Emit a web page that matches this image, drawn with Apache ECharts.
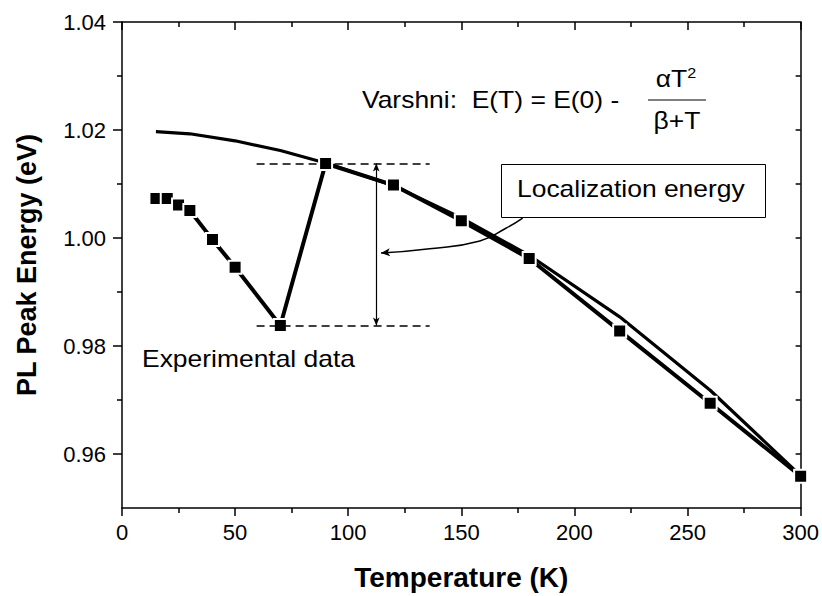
<!DOCTYPE html>
<html>
<head>
<meta charset="utf-8">
<script src="https://cdn.jsdelivr.net/npm/echarts@6.0.0/dist/echarts.min.js"></script>
<style>
  html, body { margin: 0; padding: 0; background: #fff; }
  #chart { width: 822px; height: 596px; }
</style>
</head>
<body>
<div id="chart"></div>
<script>
// measured PL peak energy
const tempK = [15, 20, 25, 30, 40, 50, 70, 90, 120, 150, 180, 220, 260, 300];
const peakEv = [1.0073, 1.0073, 1.0061, 1.0051, 0.9997, 0.9946, 0.9838, 1.0138, 1.0098, 1.0032, 0.9962, 0.9828, 0.9694, 0.9559];

// Varshni curve
const fitT = [15, 30, 50, 70, 90, 120, 150, 180, 220, 260, 300];
const fitEv = [1.0197, 1.0193, 1.0180, 1.0162, 1.0139, 1.0097, 1.0037, 0.9968, 0.9854, 0.9718, 0.9560];

// axis ticks
const yMajorTicks = [0.96, 0.98, 1.00, 1.02, 1.04];
const yMinorTicks = [0.97, 0.99, 1.01, 1.03];
const yRightTicks = [0.96, 0.97, 0.98, 0.99, 1.00, 1.01, 1.02, 1.03];

// localization energy markers
const levelHigh = 1.0138;
const levelLow = 0.9838;
const dashRange = [59.5, 136];
const arrowT = 112.4;
// curved pointer from the label box to the arrow
const pointerT = [177.1, 169.7, 158.2, 136, 114.5];
const pointerEv = [1.0037, 1.0018, 0.99945, 0.9980, 0.9972];

const font = '"Liberation Sans", Arial, sans-serif';

const chart = echarts.init(document.getElementById('chart'), null, { renderer: 'svg' });

const axisLine = { show: true, lineStyle: { color: '#000', width: 1.5 } };
const tickStyle = { color: '#000', width: 1.5 };

const option = {
  animation: false,
  backgroundColor: '#fff',
  grid: { left: 122, right: 20, top: 22, bottom: 84 },
  xAxis: [
    {
      type: 'value', position: 'bottom', min: 0, max: 300, interval: 50,
      axisLine: axisLine,
      axisTick: { show: true, length: 8, lineStyle: tickStyle },
      minorTick: { show: true, splitNumber: 2, length: 5, lineStyle: tickStyle },
      splitLine: { show: false },
      axisLabel: { color: '#000', fontSize: 22, fontFamily: font, margin: 13 },
      name: 'Temperature (K)', nameLocation: 'middle', nameGap: 55,
      nameTextStyle: { color: '#000', fontSize: 28, fontWeight: 'bold', fontFamily: font },
    },
    {
      type: 'value', position: 'top', min: 0, max: 300, interval: 50,
      axisLine: axisLine,
      axisTick: { show: true, inside: true, length: 8, lineStyle: tickStyle },
      minorTick: { show: true, splitNumber: 2, length: 5, lineStyle: tickStyle },
      splitLine: { show: false },
      axisLabel: { show: false },
    },
  ],
  yAxis: [
    {
      type: 'value', position: 'left', min: 0.95, max: 1.04,
      axisLine: axisLine,
      axisTick: { show: true, length: 9, customValues: yMajorTicks, lineStyle: tickStyle },
      splitLine: { show: false },
      axisLabel: {
        color: '#000', fontSize: 22, fontFamily: font, margin: 16,
        customValues: yMajorTicks,
        formatter: (v) => v.toFixed(2),
      },
      name: 'PL Peak Energy (eV)', nameLocation: 'middle', nameGap: 82,
      nameTextStyle: { color: '#000', fontSize: 27, fontWeight: 'bold', fontFamily: font },
    },
    {
      type: 'value', position: 'left', min: 0.95, max: 1.04,
      axisLine: { show: false },
      axisTick: { show: true, length: 5, customValues: yMinorTicks, lineStyle: tickStyle },
      splitLine: { show: false },
      axisLabel: { show: false },
    },
    {
      type: 'value', position: 'right', min: 0.95, max: 1.04,
      axisLine: axisLine,
      axisTick: { show: true, inside: true, length: 5, customValues: yRightTicks, lineStyle: tickStyle },
      splitLine: { show: false },
      axisLabel: { show: false },
    },
  ],
  series: [
    {
      name: 'Varshni',
      type: 'line',
      data: fitT.map((t, i) => [t, fitEv[i]]),
      showSymbol: false,
      lineStyle: { color: '#000', width: 3.2 },
      z: 2,
    },
    {
      name: 'Experimental data',
      type: 'line',
      data: tempK.map((t, i) => [t, peakEv[i]]),
      symbol: 'rect',
      symbolSize: 13,
      lineStyle: { color: '#000', width: 4 },
      itemStyle: { color: '#000', borderColor: '#fff', borderWidth: 2 },
      z: 3,
    },
    {
      name: 'levels',
      type: 'line',
      data: [],
      silent: true,
      markLine: {
        silent: true,
        animation: false,
        label: { show: false },
        data: [
          [
            { coord: [dashRange[0], levelHigh], symbol: 'none', lineStyle: { type: [8, 5], width: 1.5, color: '#000' } },
            { coord: [dashRange[1], levelHigh], symbol: 'none' },
          ],
          [
            { coord: [dashRange[0], levelLow], symbol: 'none', lineStyle: { type: [8, 5], width: 1.5, color: '#000' } },
            { coord: [dashRange[1], levelLow], symbol: 'none' },
          ],
          [
            { coord: [arrowT, levelHigh], symbol: 'arrow', symbolSize: [5, 8], lineStyle: { type: 'solid', width: 1.2, color: '#000' } },
            { coord: [arrowT, levelLow], symbol: 'arrow', symbolSize: [5, 8] },
          ],
        ],
      },
      z: 1,
    },
    {
      name: 'pointer',
      type: 'line',
      silent: true,
      smooth: 0.5,
      data: pointerT.map((t, i) => {
        const last = i === pointerT.length - 1;
        return {
          value: [t, pointerEv[i]],
          symbol: last ? 'arrow' : 'none',
          symbolSize: [6, 9],
          symbolRotate: 95,
        };
      }),
      showSymbol: true,
      lineStyle: { color: '#000', width: 1.5 },
      itemStyle: { color: '#000' },
      z: 1,
    },
  ],
  graphic: [
    {
      type: 'text', left: 142, top: 348, scaleX: 1.15,
      style: { text: 'Experimental data', fill: '#000', fontSize: 23, fontFamily: font },
    },
    {
      type: 'rect', left: 501, top: 164, z: 10,
      shape: { width: 264, height: 53 },
      style: { fill: '#fff', stroke: '#000', lineWidth: 1 },
    },
    {
      type: 'text', left: 517, top: 178, z: 11, scaleX: 1.15,
      style: { text: 'Localization energy', fill: '#000', fontSize: 23, fontFamily: font },
    },
    {
      type: 'text', x: 362, y: 100, scaleX: 1.15,
      style: { text: 'Varshni:  E(T) = E(0) - ', fill: '#000', fontSize: 23, fontFamily: font, verticalAlign: 'middle' },
    },
    {
      type: 'text', x: 676, y: 79, scaleX: 1.15,
      style: {
        text: 'αT{s|2}', fill: '#000', fontSize: 23, fontFamily: font, align: 'center', verticalAlign: 'middle',
        rich: { s: { fontSize: 14, verticalAlign: 'top', padding: [0, 0, 12, 0] } },
      },
    },
    {
      type: 'line',
      shape: { x1: 648, y1: 100, x2: 706, y2: 100 },
      style: { stroke: '#000', lineWidth: 1.2 },
    },
    {
      type: 'text', x: 677, y: 121, scaleX: 1.15,
      style: { text: 'β+T', fill: '#000', fontSize: 23, fontFamily: font, align: 'center', verticalAlign: 'middle' },
    },
  ],
};

chart.setOption(option);

window.addEventListener('resize', () => {
  chart.resize();
});
</script>
</body>
</html>
